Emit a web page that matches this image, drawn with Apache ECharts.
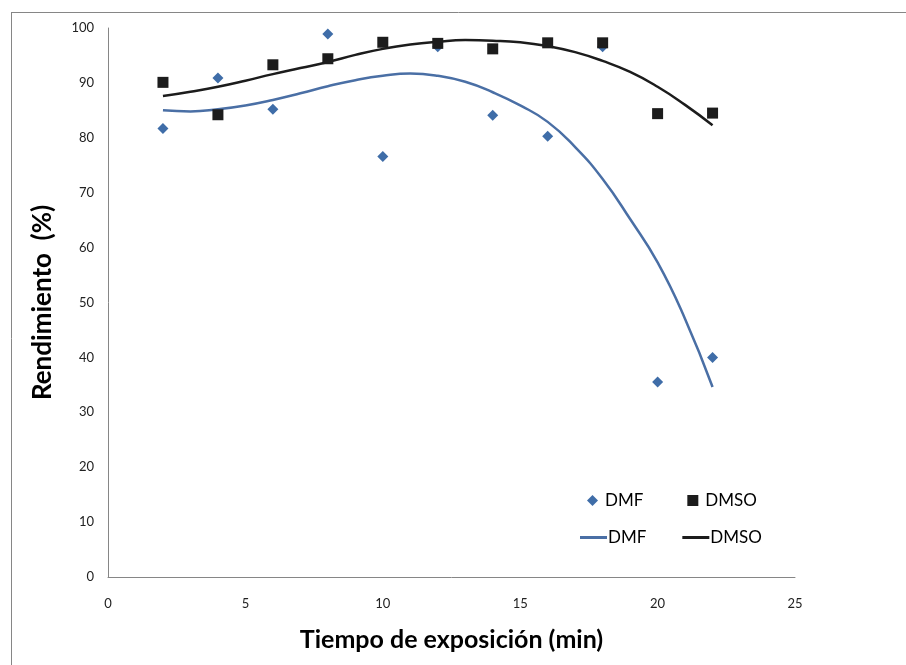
<!DOCTYPE html>
<html>
<head>
<meta charset="utf-8">
<script src="https://cdn.jsdelivr.net/npm/echarts@6/dist/echarts.min.js"></script>
<style>
html,body{margin:0;padding:0;background:#fff;}
#chart{width:906px;height:665px;}
</style>
</head>
<body>
<div id="chart"></div>
<script>
// Measured points
const timeX = [2, 4, 6, 8, 10, 12, 14, 16, 18, 20, 22];
const dmfPoints = [81.7, 90.9, 85.2, 98.9, 76.6, 96.6, 84.1, 80.3, 96.6, 35.5, 40.0];
const dmsoPoints = [90.1, 84.2, 93.3, 94.4, 97.4, 97.2, 96.2, 97.3, 97.3, 84.4, 84.5];

// Trendlines
const trendX = [2, 3, 4, 5, 6, 7, 8, 9, 10, 11, 12, 13, 14, 15, 16, 17, 18, 19, 20, 21, 22];
const dmfTrend = [85.0, 84.8, 85.2, 85.9, 86.9, 88.1, 89.4, 90.5, 91.3, 91.7, 91.3, 90.2, 88.3, 85.9, 82.9, 78.3, 72.5, 65.2, 57.3, 47.0, 34.6];
const dmsoTrend = [87.6, 88.4, 89.3, 90.4, 91.6, 92.7, 93.8, 95.1, 96.2, 97.0, 97.5, 97.8, 97.7, 97.4, 96.7, 95.6, 94.0, 92.0, 89.3, 86.0, 82.3];

const xTicks = [0, 5, 10, 15, 20, 25];
const yTicks = [0, 10, 20, 30, 40, 50, 60, 70, 80, 90, 100];

const zip = (xs, ys) => xs.map((x, i) => [x, ys[i]]);

const blue = '#3F6DA8';
const blueLine = '#4A6FA5';
const black = '#1c1c1c';
const font = 'Lato, "Open Sans", sans-serif';

const chart = echarts.init(document.getElementById('chart'));
chart.setOption({
  backgroundColor: '#fff',
  animation: false,
  grid: { left: 108, right: 111, top: 28, bottom: 88 },
  xAxis: {
    type: 'value', min: xTicks[0], max: xTicks[xTicks.length - 1], interval: 5,
    axisLine: { lineStyle: { color: '#868686', width: 1 } },
    axisTick: { show: false },
    splitLine: { show: false },
    axisLabel: { color: '#222', fontFamily: font, fontSize: 13, margin: 20 },
    name: 'Tiempo de exposición (min)', nameLocation: 'middle', nameGap: 50,
    nameTextStyle: { color: '#000', fontFamily: font, fontWeight: 'bold', fontSize: 25 }
  },
  yAxis: {
    type: 'value', min: yTicks[0], max: yTicks[yTicks.length - 1], interval: 10,
    axisLine: { show: true, lineStyle: { color: '#868686', width: 1 } },
    axisTick: { show: false },
    splitLine: { show: false },
    axisLabel: { color: '#222', fontFamily: font, fontSize: 13, margin: 14 },
    name: 'Rendimiento  (%)', nameLocation: 'middle', nameGap: 52,
    nameTextStyle: { color: '#000', fontFamily: font, fontWeight: 'bold', fontSize: 26 }
  },
  legend: [
    {
      data: [{ name: 'DMF', icon: 'diamond' }, { name: 'DMSO', icon: 'rect' }],
      left: 582, top: 487, itemWidth: 11, itemHeight: 11, itemGap: 44,
      textStyle: { fontFamily: font, fontSize: 17, color: '#000', padding: [0, 0, 0, 2] }
    },
    {
      data: [{ name: 'DMF ', icon: 'rect' }, { name: 'DMSO ', icon: 'rect' }],
      left: 575, top: 524, itemWidth: 27, itemHeight: 3, itemGap: 36,
      formatter: n => n.trim(),
      textStyle: { fontFamily: font, fontSize: 17, color: '#000', padding: [0, 0, 0, -4] }
    }
  ],
  series: [
    {
      name: 'DMF ', type: 'line', data: zip(trendX, dmfTrend), smooth: true,
      showSymbol: false, symbol: 'none', z: 3,
      lineStyle: { color: blueLine, width: 2.5 }, itemStyle: { color: blueLine }
    },
    {
      name: 'DMSO ', type: 'line', data: zip(trendX, dmsoTrend), smooth: true,
      showSymbol: false, symbol: 'none', z: 3,
      lineStyle: { color: black, width: 2.5 }, itemStyle: { color: black }
    },
    {
      name: 'DMF', type: 'scatter', data: zip(timeX, dmfPoints),
      symbol: 'diamond', symbolSize: 11, z: 4, itemStyle: { color: blue, opacity: 1 }
    },
    {
      name: 'DMSO', type: 'scatter', data: zip(timeX, dmsoPoints),
      symbol: 'rect', symbolSize: 11, z: 5, itemStyle: { color: black, opacity: 1 }
    }
  ],
  graphic: [
    { type: 'line', shape: { x1: 11, y1: 12.5, x2: 906, y2: 12.5 }, style: { stroke: '#868686', lineWidth: 1 }, silent: true },
    { type: 'line', shape: { x1: 11.5, y1: 12, x2: 11.5, y2: 665 }, style: { stroke: '#868686', lineWidth: 1 }, silent: true }
  ]
});
</script>
</body>
</html>
